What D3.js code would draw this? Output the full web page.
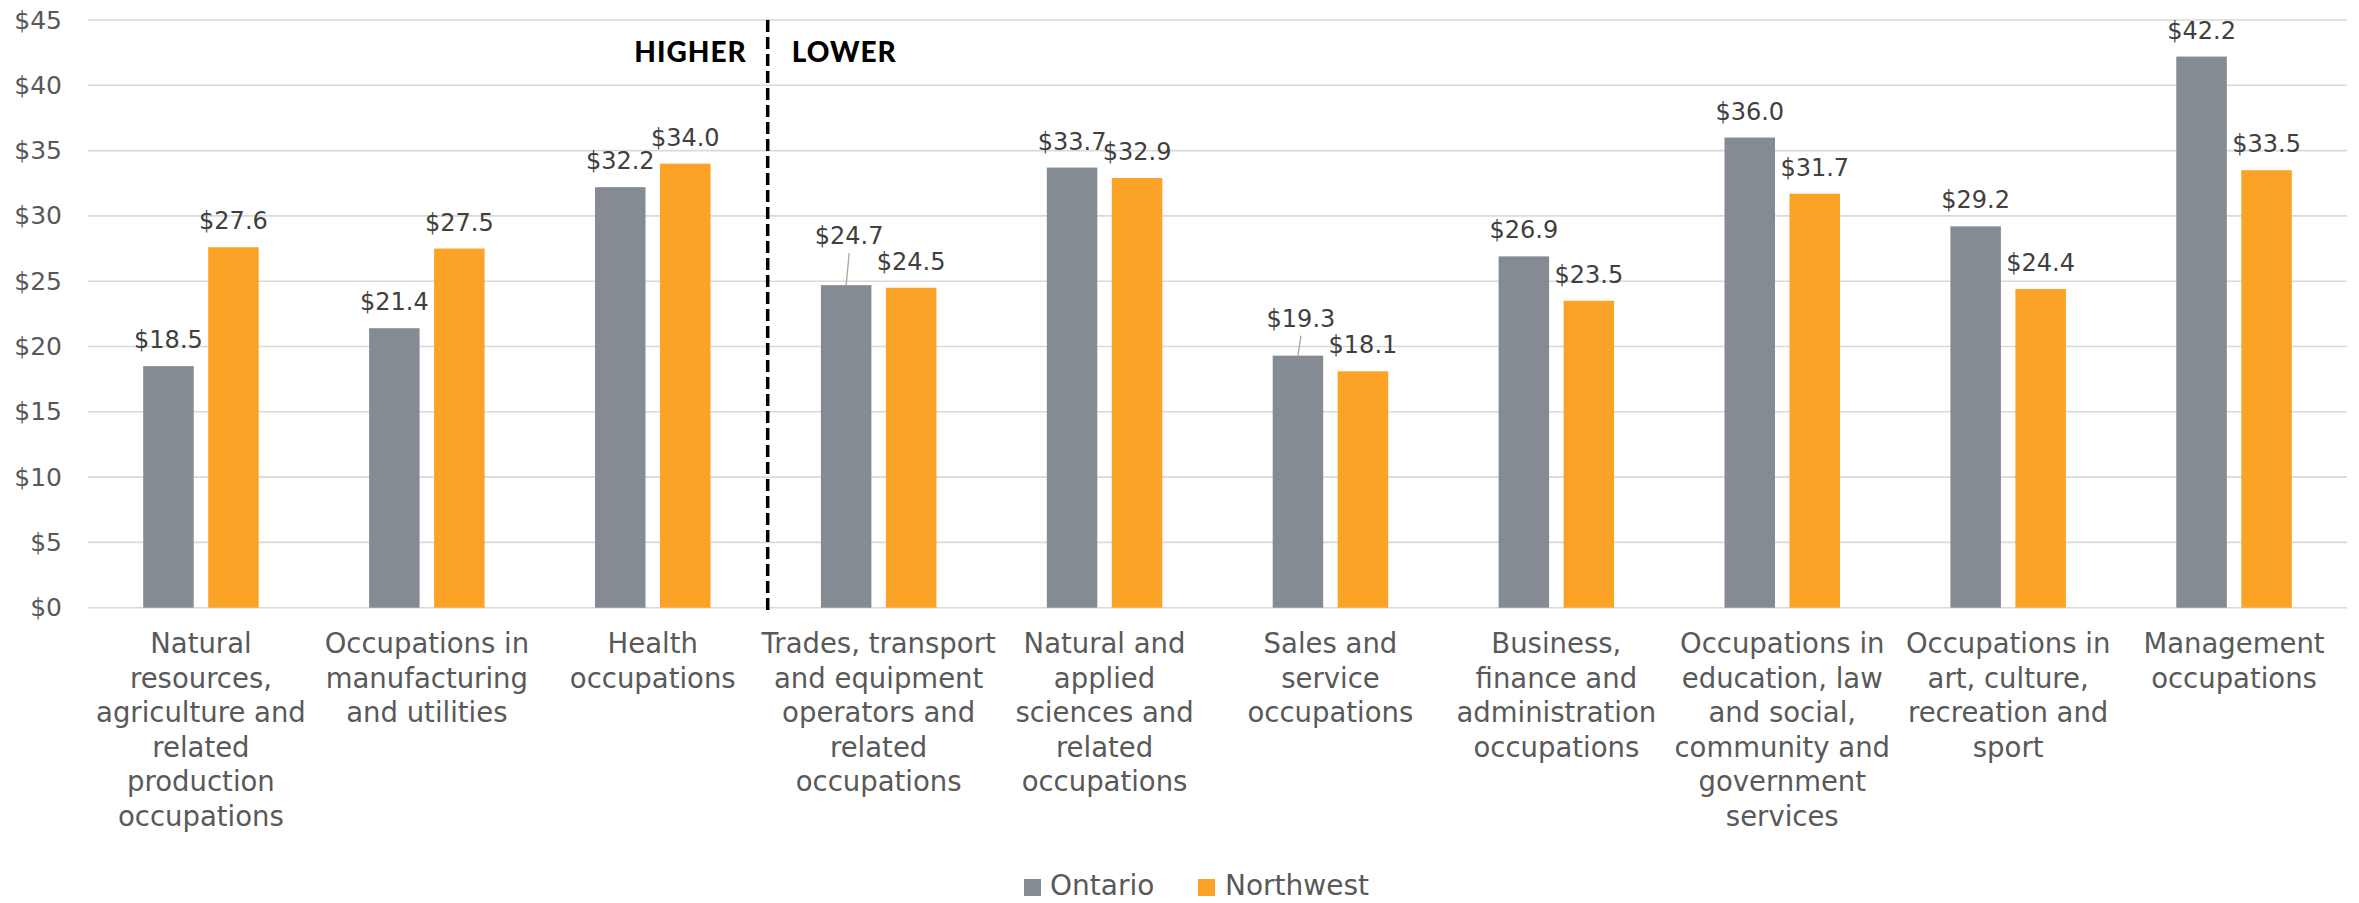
<!DOCTYPE html>
<html>
<head>
<meta charset="utf-8">
<script src="https://cdn.jsdelivr.net/npm/d3@7"></script>
<style>
  html, body { margin: 0; padding: 0; background: #fff; }
  svg { display: block; }
</style>
</head>
<body>
<div id="chart"></div>
<script>
// ---- data ----
const categories = [
  ["Natural", "resources,", "agriculture and", "related", "production", "occupations"],
  ["Occupations in", "manufacturing", "and utilities"],
  ["Health", "occupations"],
  ["Trades, transport", "and equipment", "operators and", "related", "occupations"],
  ["Natural and", "applied", "sciences and", "related", "occupations"],
  ["Sales and", "service", "occupations"],
  ["Business,", "finance and", "administration", "occupations"],
  ["Occupations in", "education, law", "and social,", "community and", "government", "services"],
  ["Occupations in", "art, culture,", "recreation and", "sport"],
  ["Management", "occupations"]
];
const seriesNames = ["Ontario", "Northwest"];
const ontario   = [18.5, 21.4, 32.2, 24.7, 33.7, 19.3, 26.9, 36.0, 29.2, 42.2];
const northwest = [27.6, 27.5, 34.0, 24.5, 32.9, 18.1, 23.5, 31.7, 24.4, 33.5];
const yTicks = [0, 5, 10, 15, 20, 25, 30, 35, 40, 45];
const dividerLabels = ["HIGHER", "LOWER"];

// ---- layout / style ----
const W = 2359, H = 903;
const plot = { left: 88, right: 2347, top: 20, bottom: 607.7 };
const colors = { Ontario: "#858b93", Northwest: "#fba327" };
// labels pulled up with a leader line (series, category index) -> extra lift in px
const labelLift = { "Ontario-3": 23, "Ontario-5": 11 };

const svg = d3.select("#chart").append("svg")
  .attr("width", W).attr("height", H)
  .style("font-family", "'DejaVu Sans', sans-serif");

const catKeys = categories.map((c, i) => i);
const x = d3.scaleBand().domain(catKeys).range([plot.left, plot.right]).paddingInner(0).paddingOuter(0);
const xs = d3.scaleBand().domain(seriesNames).range([-57.75, 57.75]).paddingInner(0.223);
const y = d3.scaleLinear().domain([0, 45]).range([plot.bottom, plot.top]);

// gridlines
svg.append("g").selectAll("line").data(yTicks).join("line")
  .attr("x1", plot.left).attr("x2", plot.right)
  .attr("y1", d => y(d)).attr("y2", d => y(d))
  .attr("stroke", "#d9d9d9").attr("stroke-width", 1.6);

// y axis labels
const yAxis = d3.axisLeft(y).tickValues(yTicks).tickFormat(d => "$" + d).tickSize(0).tickPadding(0);
const yg = svg.append("g").attr("transform", `translate(62,0)`).call(yAxis);
yg.select(".domain").remove();
yg.selectAll("text")
  .attr("fill", "#595959").style("font-size", "25px")
  .style("font-family", "'DejaVu Sans', sans-serif");

// bars
const data = [];
categories.forEach((c, i) => {
  data.push({ s: "Ontario", i, v: ontario[i] });
  data.push({ s: "Northwest", i, v: northwest[i] });
});
const cx = d => x(d.i) + x.bandwidth() / 2 + xs(d.s) + xs.bandwidth() / 2;

svg.append("g").selectAll("rect").data(data).join("rect")
  .attr("x", d => x(d.i) + x.bandwidth() / 2 + xs(d.s))
  .attr("width", xs.bandwidth())
  .attr("y", d => y(d.v))
  .attr("height", d => y(0) - y(d.v))
  .attr("fill", d => colors[d.s]);

// data labels
const lg = svg.append("g");
data.forEach(d => {
  const lift = labelLift[d.s + "-" + d.i] || 0;
  const bx = cx(d);
  const by = y(d.v) - 18 - lift;
  const tx = lift ? bx + 3 : bx;
  lg.append("text")
    .attr("x", tx).attr("y", by)
    .attr("text-anchor", "middle")
    .attr("fill", "#404040")
    .style("font-size", "24px")
    .text("$" + d.v.toFixed(1));
  if (lift) {
    lg.append("line")
      .attr("x1", tx).attr("y1", by + 9)
      .attr("x2", bx).attr("y2", y(d.v))
      .attr("stroke", "#a6a6a6").attr("stroke-width", 1.3);
  }
});

// category labels
const cg = svg.append("g");
categories.forEach((lines, i) => {
  const t = cg.append("text")
    .attr("text-anchor", "middle")
    .attr("fill", "#595959")
    .style("font-size", "27.5px");
  lines.forEach((ln, k) => {
    t.append("tspan")
      .attr("x", x(i) + x.bandwidth() / 2)
      .attr("y", 653 + k * 34.6)
      .text(ln);
  });
});

// divider
const divX = x(3) + 2;
svg.append("line")
  .attr("x1", divX).attr("x2", divX)
  .attr("y1", plot.top).attr("y2", plot.bottom + 5)
  .attr("stroke", "#000").attr("stroke-width", 3.5)
  .attr("stroke-dasharray", "12,5");
svg.append("text")
  .attr("x", divX - 21).attr("y", 62)
  .attr("text-anchor", "end")
  .style("font-family", "Lato, sans-serif").style("font-weight", 900)
  .style("font-size", "28px").style("letter-spacing", "1px")
  .attr("fill", "#000")
  .text(dividerLabels[0]);
svg.append("text")
  .attr("x", divX + 24).attr("y", 62)
  .attr("text-anchor", "start")
  .style("font-family", "Lato, sans-serif").style("font-weight", 900)
  .style("font-size", "28px").style("letter-spacing", "1px")
  .attr("fill", "#000")
  .text(dividerLabels[1]);

// legend
const legendPos = [{ sx: 1024, tx: 1050 }, { sx: 1198, tx: 1225 }];
const leg = svg.append("g");
seriesNames.forEach((s, k) => {
  leg.append("rect")
    .attr("x", legendPos[k].sx).attr("y", 879)
    .attr("width", 17).attr("height", 17)
    .attr("fill", colors[s]);
  leg.append("text")
    .attr("x", legendPos[k].tx).attr("y", 895)
    .attr("fill", "#595959")
    .style("font-size", "28px")
    .text(s);
});
</script>
</body>
</html>
